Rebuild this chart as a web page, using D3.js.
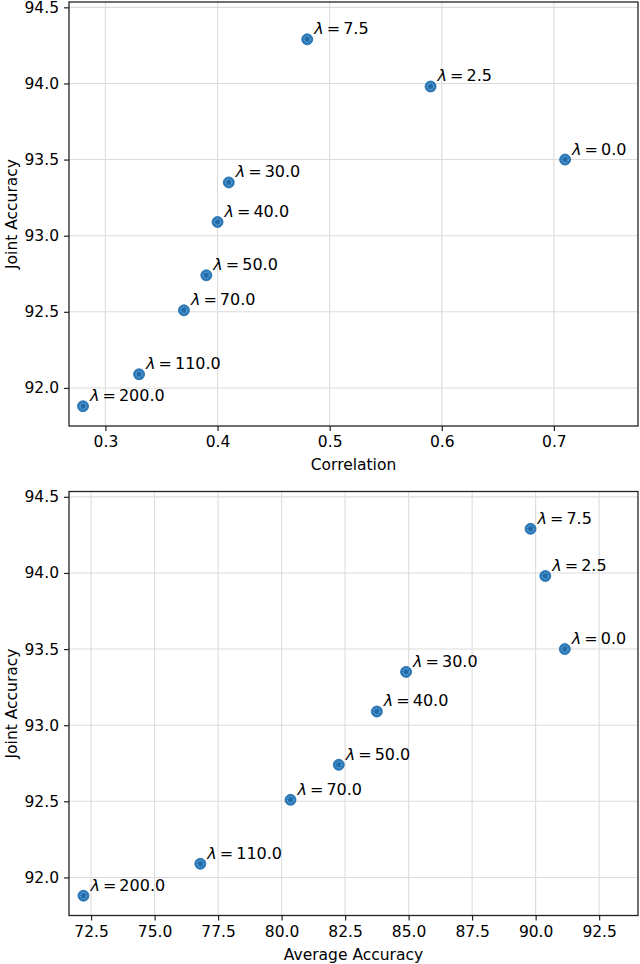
<!DOCTYPE html>
<html>
<head>
<meta charset="utf-8">
<script src="https://cdn.jsdelivr.net/npm/d3@7"></script>
<style>
  body { margin: 0; background: #fff; }
  svg text { font-family: "DejaVu Sans", sans-serif; fill: #000; }
</style>
</head>
<body>
<div id="chart"></div>
<script>
// values
var lambdas = ["0.0", "2.5", "7.5", "30.0", "40.0", "50.0", "70.0", "110.0", "200.0"];
var correlation = [0.71, 0.59, 0.48, 0.41, 0.40, 0.39, 0.37, 0.33, 0.28];
var averageAccuracy = [91.15, 90.38, 89.8, 84.9, 83.75, 82.25, 80.35, 76.8, 72.2];
var jointAccuracy = [93.5, 93.98, 94.29, 93.35, 93.09, 92.74, 92.51, 92.09, 91.88];

var yTicks = [92.0, 92.5, 93.0, 93.5, 94.0, 94.5];
var corrTicks = [0.3, 0.4, 0.5, 0.6, 0.7];
var avgTicks = [72.5, 75.0, 77.5, 80.0, 82.5, 85.0, 87.5, 90.0, 92.5];

var W = 640, H = 964;
var svg = d3.select("#chart").append("svg").attr("width", W).attr("height", H);

function panel(opt) {
  var left = 69, width = 569, top = opt.top, height = 424;
  var x = d3.scaleLinear().domain(opt.xDomain).range([left, left + width]);
  var y = d3.scaleLinear().domain([91.75, 94.535]).range([top + height, top]);
  var g = svg.append("g");

  // grid
  g.selectAll(".gx").data(opt.xTicks).enter().append("line")
    .attr("x1", function(d) { return x(d); }).attr("x2", function(d) { return x(d); })
    .attr("y1", top).attr("y2", top + height)
    .attr("stroke", "#dcdcdc").attr("stroke-width", 1.1);
  g.selectAll(".gy").data(yTicks).enter().append("line")
    .attr("x1", left).attr("x2", left + width)
    .attr("y1", function(d) { return y(d); }).attr("y2", function(d) { return y(d); })
    .attr("stroke", "#dcdcdc").attr("stroke-width", 1.1);

  var xAxis = d3.axisBottom(x).tickValues(opt.xTicks).tickFormat(d3.format(opt.fmt))
    .tickSizeInner(5).tickSizeOuter(0).tickPadding(5);
  var yAxis = d3.axisLeft(y).tickValues(yTicks).tickFormat(d3.format(".1f"))
    .tickSizeInner(5).tickSizeOuter(0).tickPadding(5);

  var gx = g.append("g").attr("transform", "translate(0," + (top + height) + ")").call(xAxis);
  var gy = g.append("g").attr("transform", "translate(" + left + ",0)").call(yAxis);
  [gx, gy].forEach(function(a) {
    a.select(".domain").remove();
    a.selectAll(".tick line").attr("stroke", "#222").attr("stroke-width", 1.2);
    a.selectAll(".tick text").style("font-size", "15.5px").attr("fill", "#000");
  });

  // frame
  g.append("rect").attr("x", left).attr("y", top).attr("width", width).attr("height", height)
    .attr("fill", "none").attr("stroke", "#222").attr("stroke-width", 1.3);

  // labels
  g.append("text").attr("x", left + width / 2).attr("y", top + height + 44)
    .attr("text-anchor", "middle").style("font-size", "15.5px").text(opt.xLabel);
  g.append("text").attr("transform", "translate(17," + (top + height / 2) + ") rotate(-90)")
    .attr("text-anchor", "middle").style("font-size", "15.5px").text("Joint Accuracy");

  // points
  var pts = g.selectAll(".pt").data(lambdas).enter().append("g")
    .attr("transform", function(d, i) {
      return "translate(" + x(opt.xs[i]) + "," + y(jointAccuracy[i]) + ")";
    });
  pts.append("circle").attr("r", 5.5).attr("fill", "#2b7bba").attr("stroke", "#1f6aa8").attr("stroke-width", 0.8);
  pts.append("circle").attr("r", 3).attr("fill", "#1f6aa8").attr("stroke", "#8dbde3")
    .attr("stroke-width", 0.9).attr("stroke-dasharray", "1.5,1");

  var lab = pts.append("text").attr("x", 7).attr("y", -5).style("font-size", "16px");
  lab.append("tspan").style("font-style", "italic").text("λ");
  lab.append("tspan").attr("dx", 3).text("=");
  lab.append("tspan").attr("dx", 3).text(function(d) { return d; });
}

panel({ top: 2, xDomain: [0.2675, 0.775], xTicks: corrTicks, fmt: ".1f", xs: correlation, xLabel: "Correlation" });
panel({ top: 491.5, xDomain: [71.63, 94.03], xTicks: avgTicks, fmt: ".1f", xs: averageAccuracy, xLabel: "Average Accuracy" });
</script>
</body>
</html>
